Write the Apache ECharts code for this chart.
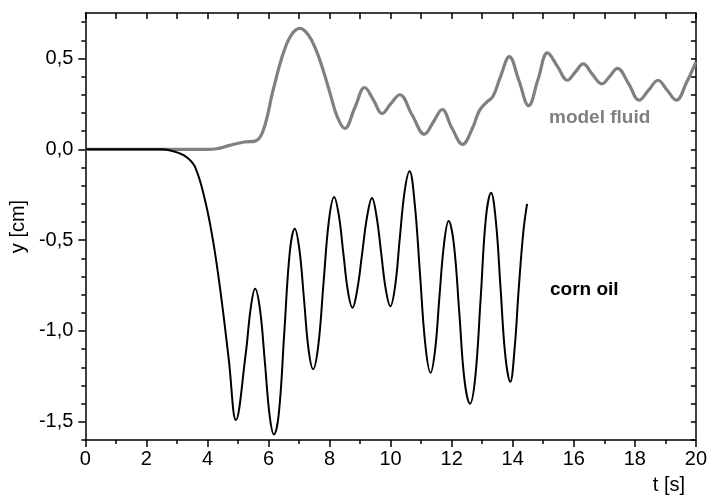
<!DOCTYPE html>
<html>
<head>
<meta charset="utf-8">
<script src="https://cdn.jsdelivr.net/npm/echarts@6/dist/echarts.min.js"></script>
<style>
html,body{margin:0;padding:0;background:#fff;}
#c{width:710px;height:496px;}
</style>
</head>
<body>
<div id="c"></div>
<script>
// ---- data ----
const cornT = [0, 2.5, 2.75, 3.05, 3.33, 3.6, 3.92, 4.18, 4.44, 4.7, 4.93, 5.25, 5.42, 5.56, 5.72, 5.88, 6.04, 6.18, 6.34, 6.52, 6.7, 6.86, 7.01, 7.16, 7.31, 7.46, 7.63, 7.8, 7.98, 8.15, 8.3, 8.45, 8.6, 8.75, 8.91, 9.07, 9.23, 9.39, 9.54, 9.69, 9.84, 9.99, 10.15, 10.3, 10.46, 10.62, 10.79, 10.96, 11.14, 11.31, 11.46, 11.6, 11.75, 11.9, 12.07, 12.25, 12.42, 12.6, 12.77, 12.95, 13.12, 13.29, 13.45, 13.6, 13.76, 13.92, 14.06, 14.2, 14.35, 14.47];
const cornY = [0, 0, -0.005, -0.02, -0.045, -0.1, -0.28, -0.5, -0.8, -1.16, -1.49, -1.13, -0.87, -0.767, -0.88, -1.17, -1.47, -1.57, -1.45, -1.0, -0.56, -0.437, -0.55, -0.82, -1.1, -1.21, -1.08, -0.74, -0.39, -0.262, -0.36, -0.57, -0.78, -0.872, -0.77, -0.57, -0.37, -0.268, -0.37, -0.57, -0.77, -0.864, -0.75, -0.49, -0.23, -0.121, -0.3, -0.68, -1.08, -1.23, -1.1, -0.81, -0.52, -0.395, -0.52, -0.9, -1.27, -1.40, -1.26, -0.82, -0.38, -0.239, -0.4, -0.76, -1.14, -1.28, -1.1, -0.76, -0.45, -0.30];

const modelT = [0, 4.0, 4.3, 4.7, 5.2, 5.56, 5.83, 6.15, 6.48, 6.75, 7.03, 7.3, 7.55, 7.8, 8.03, 8.25, 8.5, 8.83, 9.15, 9.44, 9.72, 10.0, 10.3, 10.7, 11.11, 11.4, 11.69, 12.0, 12.36, 12.69, 12.9, 13.15, 13.35, 13.6, 13.89, 14.2, 14.52, 14.83, 15.14, 15.47, 15.79, 16.05, 16.31, 16.6, 16.92, 17.17, 17.43, 17.8, 18.14, 18.45, 18.76, 19.06, 19.36, 19.7, 20];
const modelY = [0, 0, 0.003, 0.02, 0.04, 0.045, 0.105, 0.325, 0.527, 0.63, 0.665, 0.63, 0.55, 0.43, 0.3, 0.18, 0.115, 0.23, 0.34, 0.27, 0.197, 0.25, 0.30, 0.19, 0.083, 0.15, 0.219, 0.12, 0.027, 0.12, 0.21, 0.26, 0.29, 0.4, 0.51, 0.38, 0.24, 0.385, 0.53, 0.455, 0.38, 0.425, 0.47, 0.415, 0.36, 0.40, 0.445, 0.36, 0.27, 0.325, 0.38, 0.325, 0.27, 0.37, 0.48];

const xTicks = [0, 2, 4, 6, 8, 10, 12, 14, 16, 18, 20];
const yMajor = [-1.5, -1.0, -0.5, 0.0, 0.5];
const yMinor = [-1.6, -1.4, -1.3, -1.2, -1.1, -0.9, -0.8, -0.7, -0.6, -0.4, -0.3, -0.2, -0.1, 0.1, 0.2, 0.3, 0.4, 0.6, 0.7];
const yAll = [-1.6, -1.5, -1.4, -1.3, -1.2, -1.1, -1.0, -0.9, -0.8, -0.7, -0.6, -0.5, -0.4, -0.3, -0.2, -0.1, 0.0, 0.1, 0.2, 0.3, 0.4, 0.5, 0.6, 0.7];
const xName = 't [s]';
const yName = 'y [cm]';
const labelModel = 'model fluid';
const labelCorn = 'corn oil';

const FONT = '"Liberation Sans", Arial, sans-serif';
const fmt = v => v.toFixed(1).replace('.', ',');
const pairs = (t, y) => t.map((x, i) => [x, y[i]]);

const chart = echarts.init(document.getElementById('c'), null, {renderer: 'canvas'});
const lineStyleAxis = {color: '#000', width: 1.5};
chart.setOption({
  animation: false,
  backgroundColor: '#fff',
  grid: {left: 85, right: 13, top: 13, bottom: 56, containLabel: false},
  xAxis: [{
    type: 'value', position: 'bottom', min: 0, max: 20, interval: 2,
    axisLine: {show: true, onZero: false, lineStyle: lineStyleAxis},
    axisTick: {show: true, inside: false, length: 7, lineStyle: {color: '#000', width: 1.5}},
    minorTick: {show: true, splitNumber: 2, length: 4, lineStyle: {color: '#000', width: 1.5}},
    axisLabel: {show: true, fontSize: 20, fontFamily: FONT, color: '#000', margin: 9,
      customValues: xTicks, formatter: v => String(v)},
    splitLine: {show: false}, minorSplitLine: {show: false}
  }, {
    type: 'value', position: 'top', min: 0, max: 20, interval: 1,
    axisLine: {show: true, onZero: false, lineStyle: lineStyleAxis},
    axisTick: {show: true, inside: true, length: 6, lineStyle: {color: '#000', width: 1.5}},
    axisLabel: {show: false}, splitLine: {show: false}
  }],
  yAxis: [{
    type: 'value', position: 'left', min: -1.6, max: 0.75,
    axisLine: {show: true, onZero: false, lineStyle: lineStyleAxis},
    axisTick: {show: true, inside: false, length: 7, customValues: yMajor, lineStyle: {color: '#000', width: 1.5}},
    axisLabel: {show: true, fontSize: 20, fontFamily: FONT, color: '#000', margin: 12,
      customValues: yMajor, formatter: fmt},
    splitLine: {show: false},
    name: yName, nameLocation: 'middle', nameGap: 57, nameRotate: 90,
    nameTextStyle: {fontSize: 20, fontFamily: FONT, color: '#000'}
  }, {
    type: 'value', position: 'left', min: -1.6, max: 0.75,
    axisLine: {show: false},
    axisTick: {show: true, inside: false, length: 4, customValues: yMinor, lineStyle: {color: '#000', width: 1.5}},
    axisLabel: {show: false}, splitLine: {show: false}
  }, {
    type: 'value', position: 'right', min: -1.6, max: 0.75,
    axisLine: {show: true, onZero: false, lineStyle: lineStyleAxis},
    axisTick: {show: true, inside: true, length: 5, customValues: yAll, lineStyle: {color: '#000', width: 1.5}},
    axisLabel: {show: false}, splitLine: {show: false}
  }],
  series: [{
    name: labelModel, type: 'line', xAxisIndex: 0, yAxisIndex: 0,
    data: pairs(modelT, modelY), showSymbol: false, smooth: 0.4,
    lineStyle: {color: '#808080', width: 3.2}, z: 3
  }, {
    name: labelCorn, type: 'line', xAxisIndex: 0, yAxisIndex: 0,
    data: pairs(cornT, cornY), showSymbol: false, smooth: 0.4,
    lineStyle: {color: '#000', width: 2}, z: 4
  }],
  graphic: [{
    type: 'text', left: 549, top: 108,
    style: {text: labelModel, fill: '#808080', font: 'bold 19px ' + FONT}
  }, {
    type: 'text', left: 550, top: 280,
    style: {text: labelCorn, fill: '#000', font: 'bold 19px ' + FONT}
  }, {
    type: 'text', right: 25, top: 475,
    style: {text: xName, fill: '#000', font: '20px ' + FONT}
  }]
});
</script>
</body>
</html>
